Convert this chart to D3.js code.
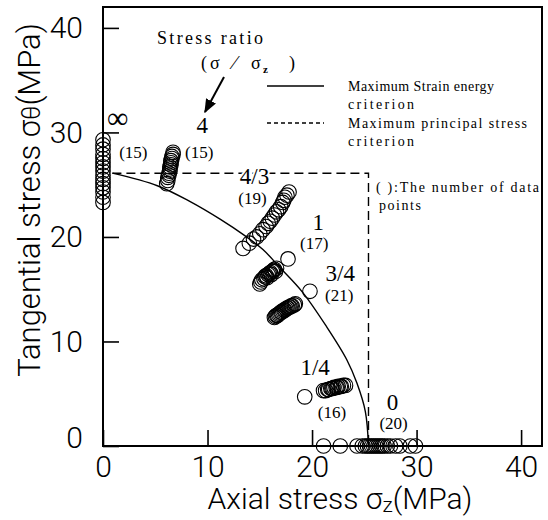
<!DOCTYPE html>
<html>
<head>
<meta charset="utf-8">
<script src="https://cdn.jsdelivr.net/npm/d3@7"></script>
<style>
  body { margin: 0; background: #fff; }
  svg text { fill: #000; }
  .tick text { font-family: Roboto, "Open Sans", sans-serif; font-weight: 300; font-size: 30px; }
  .ann { font-family: "Liberation Serif", "DejaVu Serif", serif; }
</style>
</head>
<body>
<svg id="chart" width="548" height="520"></svg>
<script>
// tick values on both axes
var xTicks = [0, 10, 20, 30, 40];
var yTicks = [0, 10, 20, 30, 40];

// stress ratio groups (sigma_theta / sigma_z)
var ratioLabels = ["\u221e", "4", "4/3", "1", "3/4", "1/4", "0"];
var countLabels = ["(15)", "(15)", "(19)", "(17)", "(21)", "(16)", "(20)"];

var infX = [0,0,0,0,0,0,0,0,0,0,0,0,0,0,0];
var infY = [23.3,23.8,24.3,24.7,25.1,25.5,25.9,26.3,26.7,27.1,27.5,27.9,28.4,28.8,29.3];

var r4X = [6.1,6.2,6.2,6.3,6.3,6.4,6.4,6.4,6.5,6.5,6.5,6.6,6.6,6.7,6.7];
var r4Y = [25.1,25.4,25.7,25.9,26.1,26.3,26.5,26.7,26.9,27.1,27.3,27.5,27.7,27.9,28.1];

var r43X = [13.4,14.0,14.4,14.7,15.0,15.3,15.6,15.8,16.0,16.2,16.4,16.6,16.8,17.0,17.2,17.3,17.4,17.6,17.8];
var r43Y = [18.9,19.4,19.8,20.0,20.3,20.7,21.0,21.3,21.5,21.8,22.1,22.4,22.6,22.9,23.3,23.5,23.8,24.0,24.3];

var r1X = [15.0,15.1,15.2,15.4,15.5,15.6,15.7,15.8,15.9,16.0,16.1,16.2,16.3,16.4,16.5,16.6,17.7];
var r1Y = [15.5,15.7,15.9,16.0,16.2,16.3,16.1,16.4,16.5,16.6,16.4,16.7,16.8,16.9,16.7,17.0,17.9];

var r34X = [16.4,16.5,16.6,16.7,16.8,16.9,17.0,17.1,17.2,17.3,17.4,17.5,17.6,17.7,17.8,17.9,18.0,18.1,18.3,18.4,19.8];
var r34Y = [12.3,12.4,12.5,12.5,12.6,12.7,12.8,12.8,12.9,13.0,13.0,13.1,13.2,13.2,13.3,13.3,13.4,13.4,13.5,13.6,14.8];

var r14X = [19.3,21.1,21.3,21.5,21.6,21.8,21.9,22.0,22.1,22.3,22.4,22.5,22.7,22.8,23.0,23.2];
var r14Y = [4.7,5.3,5.3,5.4,5.4,5.5,5.5,5.5,5.6,5.6,5.6,5.7,5.7,5.7,5.8,5.8];

var r0X = [21.1,22.7,24.3,24.8,25.1,25.3,25.5,25.7,25.9,26.1,26.3,26.5,26.7,26.9,27.2,27.5,28.0,28.4,29.4,29.9];
var r0Y = [0,0,0,0,0,0,0,0,0,0,0,0,0,0,0,0,0,0,0,0];

// maximum strain energy criterion (solid curve)
var strainX = [0.9,5.2,8.3,11.2,13.6,15.3,16.9,19.1,21.4,23.3,24.3,25.1,25.4];
var strainY = [26.1,24.9,23.4,21.7,20.1,18.8,17.1,14.7,11.4,8.3,6.0,3.3,0];

// maximum principal stress criterion (dashed)
var principalX = [0.9,25.4,25.4];
var principalY = [26.1,26.1,0];

var groups = [
  {xs: infX, ys: infY}, {xs: r4X, ys: r4Y}, {xs: r43X, ys: r43Y},
  {xs: r1X, ys: r1Y}, {xs: r34X, ys: r34Y}, {xs: r14X, ys: r14Y}, {xs: r0X, ys: r0Y}
];

var svg = d3.select("#chart");
var padL = 103, padR = 542, padT = 7, padB = 446;

var xScale = d3.scaleLinear().domain([0, 42]).range([padL, padR]);
var yScale = d3.scaleLinear().domain([0, 42]).range([padB, padT]);

// axes with inward ticks
svg.append("g")
  .attr("transform", "translate(0," + padB + ")")
  .call(d3.axisBottom(xScale).tickValues(xTicks).tickSizeInner(-16).tickSizeOuter(0).tickPadding(10))
  .call(function(g) { g.select(".domain").remove(); });

svg.append("g")
  .attr("transform", "translate(" + padL + ",0)")
  .call(d3.axisLeft(yScale).tickValues(yTicks).tickSizeInner(-16).tickSizeOuter(0).tickPadding(20))
  .call(function(g) {
    g.select(".domain").remove();
    // the zero label sits a little above the corner
    g.selectAll(".tick").filter(function(d) { return d === 0; }).select("text").attr("y", -8);
  });

svg.selectAll(".tick line").attr("stroke", "#000").attr("stroke-width", 1.6);
svg.selectAll(".tick text").attr("fill", "#000");

// frame
svg.append("rect")
  .attr("x", padL).attr("y", padT)
  .attr("width", padR - padL).attr("height", padB - padT)
  .attr("fill", "none").attr("stroke", "#000").attr("stroke-width", 2);

// criteria lines
var line = d3.line().x(function(d) { return xScale(d[0]); }).y(function(d) { return yScale(d[1]); });

svg.append("path")
  .datum(d3.zip(principalX, principalY))
  .attr("fill", "none").attr("stroke", "#000").attr("stroke-width", 1.4)
  .attr("stroke-dasharray", "9,5")
  .attr("d", line);

svg.append("path")
  .datum(d3.zip(strainX, strainY))
  .attr("fill", "none").attr("stroke", "#000").attr("stroke-width", 1.4)
  .attr("d", line.curve(d3.curveCatmullRom));

// data circles
groups.forEach(function(g) {
  svg.append("g").selectAll("circle")
    .data(d3.zip(g.xs, g.ys))
    .enter().append("circle")
    .attr("cx", function(d) { return xScale(d[0]); })
    .attr("cy", function(d) { return yScale(d[1]); })
    .attr("r", 7.3)
    .attr("fill", "none").attr("stroke", "#000").attr("stroke-width", 1.1);
});

// ratio and count labels (position in MPa)
var ratioPos = [[1.4,31.4],[9.5,30.7],[14.5,25.8],[20.6,21.4],[22.7,16.6],[20.3,7.6],[27.7,4.2]];
var countPos = [[2.9,28.1],[9.2,28.1],[14.3,23.7],[20.2,19.4],[22.6,14.4],[21.9,3.25],[27.8,2.2]];

svg.append("g").selectAll("text")
  .data(ratioLabels)
  .enter().append("text")
  .attr("class", "ann")
  .attr("x", function(d, i) { return xScale(ratioPos[i][0]); })
  .attr("y", function(d, i) { return yScale(ratioPos[i][1]); })
  .attr("dy", "0.35em")
  .attr("text-anchor", "middle")
  .style("font-size", function(d, i) { return i == 0 ? "30px" : "23px"; })
  .style("paint-order", "stroke").style("stroke", "#fff").style("stroke-width", 4)
  .text(function(d) { return d; });

svg.append("g").selectAll("text")
  .data(countLabels)
  .enter().append("text")
  .attr("class", "ann")
  .attr("x", function(d, i) { return xScale(countPos[i][0]); })
  .attr("y", function(d, i) { return yScale(countPos[i][1]); })
  .attr("dy", "0.35em")
  .attr("text-anchor", "middle")
  .style("font-size", "17px")
  .text(function(d) { return d; });

// stress ratio note and arrow
svg.append("text").attr("class", "ann")
  .attr("x", 157).attr("y", 44)
  .attr("textLength", 106).attr("lengthAdjust", "spacing")
  .style("font-size", "18px").text("Stress ratio");

var sr = svg.append("text").attr("class", "ann").attr("y", 69).style("font-size", "18px");
sr.append("tspan").attr("x", 201).text("(");
sr.append("tspan").attr("x", 210).text("\u03c3");
sr.append("tspan").attr("x", 233).style("font-size", "20px").text("\u2215");
sr.append("tspan").attr("x", 251).text("\u03c3");
sr.append("tspan").attr("x", 263).attr("dy", 4).style("font-size", "11px").style("font-weight", "bold").text("z");
sr.append("tspan").attr("x", 289).attr("dy", -4).text(")");

svg.append("defs").append("marker")
  .attr("id", "arrow").attr("viewBox", "0 0 10 10")
  .attr("refX", 9).attr("refY", 5)
  .attr("markerWidth", 7).attr("markerHeight", 7)
  .attr("orient", "auto")
  .append("path").attr("d", "M0,1 L10,5 L0,9 Z").attr("fill", "#000");

svg.append("line")
  .attr("x1", 224).attr("y1", 77).attr("x2", 205).attr("y2", 112)
  .attr("stroke", "#000").attr("stroke-width", 2)
  .attr("marker-end", "url(#arrow)");

// legend
var legend = svg.append("g").attr("class", "ann").style("font-size", "14px");
legend.append("line").attr("x1", 267).attr("x2", 324).attr("y1", 86).attr("y2", 86)
  .attr("stroke", "#000").attr("stroke-width", 1.3);
legend.append("text").attr("x", 348).attr("y", 91).attr("textLength", 146).attr("lengthAdjust", "spacing").text("Maximum Strain energy");
legend.append("text").attr("x", 348).attr("y", 109).attr("textLength", 66).attr("lengthAdjust", "spacing").text("criterion");
legend.append("line").attr("x1", 267).attr("x2", 324).attr("y1", 123).attr("y2", 123)
  .attr("stroke", "#000").attr("stroke-width", 1.3).attr("stroke-dasharray", "4,3");
legend.append("text").attr("x", 348).attr("y", 128).attr("textLength", 179).attr("lengthAdjust", "spacing").text("Maximum principal stress");
legend.append("text").attr("x", 348).attr("y", 146).attr("textLength", 66).attr("lengthAdjust", "spacing").text("criterion");
legend.append("text").attr("x", 376).attr("y", 192).attr("textLength", 163).attr("lengthAdjust", "spacing").text("( ):The number of data");
legend.append("text").attr("x", 379).attr("y", 210).attr("textLength", 42).attr("lengthAdjust", "spacing").text("points");

// axis titles
var xt = svg.append("text")
  .attr("x", 340).attr("y", 509).attr("text-anchor", "middle")
  .style("font-family", "Roboto, 'Open Sans', sans-serif").style("font-weight", 300).style("font-size", "30px");
xt.append("tspan").text("Axial stress \u03c3");
xt.append("tspan").attr("dy", 3).style("font-size", "21px").text("z");
xt.append("tspan").attr("dy", -3).text("(MPa)");

var yt = svg.append("text")
  .attr("transform", "translate(40,200) rotate(-90)").attr("text-anchor", "middle")
  .style("font-family", "Roboto, 'Open Sans', sans-serif").style("font-weight", 300).style("font-size", "31px");
yt.append("tspan").text("Tangential stress \u03c3");
yt.append("tspan").style("font-size", "25px").text("\u03b8");
yt.append("tspan").text("(MPa)");
</script>
</body>
</html>
